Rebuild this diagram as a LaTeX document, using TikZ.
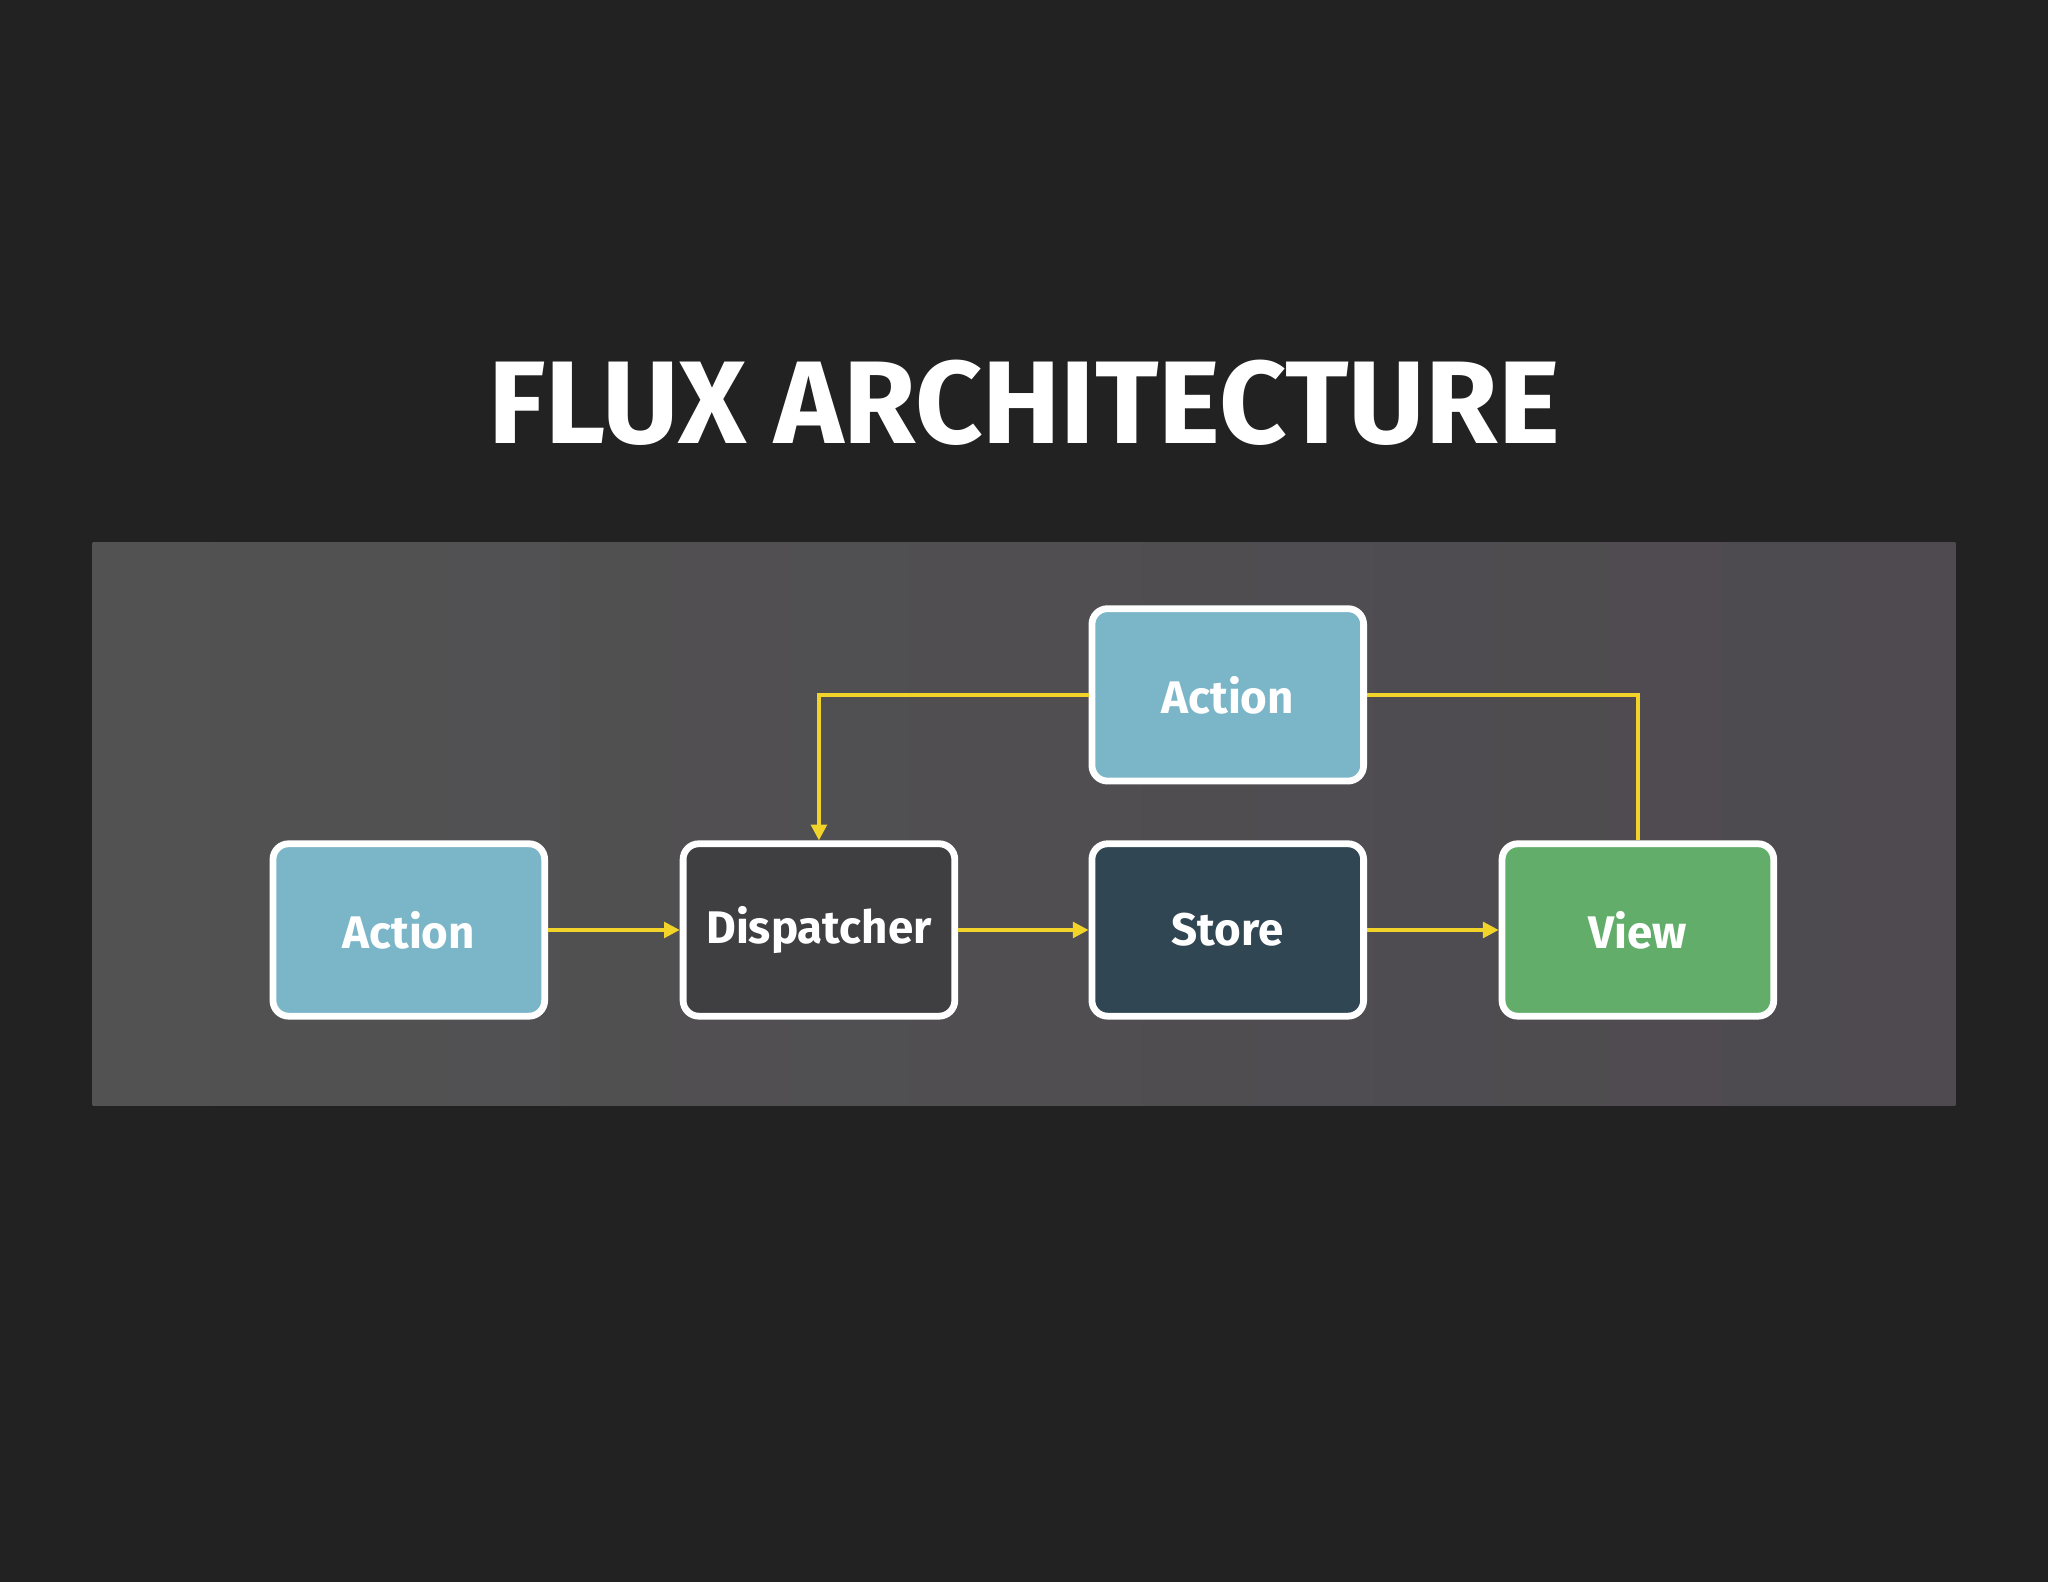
\documentclass[tikz,border=0pt]{standalone}
\usepackage{fontspec}
\setmainfont{Fira Sans}
\usetikzlibrary{arrows.meta}
\definecolor{bg}{HTML}{222223}
\definecolor{pl}{HTML}{525252}
\definecolor{pr}{HTML}{4E4A50}
\definecolor{act}{HTML}{7AB5C8}
\definecolor{disp}{HTML}{3F3F42}
\definecolor{sto}{HTML}{304653}
\definecolor{vie}{HTML}{62AD6A}
\definecolor{yel}{HTML}{F2D32A}
\begin{document}
\begin{tikzpicture}[x=0.5pt,y=-0.5pt,
 box/.style={draw=white,line width=2.6pt,rounded corners=6pt,minimum width=104pt,minimum height=66pt,inner sep=0pt,text=white,font=\fontsize{17.5}{20}\selectfont\bfseries},
 arr/.style={draw=yel,line width=1.3pt,-{Triangle[length=6pt,width=6pt]}}]
\fill[bg] (0,0) rectangle (1568,1211);
\useasboundingbox (0,0) rectangle (1568,1211);
\shade[left color=pl,right color=pr] (71,415) rectangle (1497,846);
\node[text=white,font=\fontsize{45}{50}\selectfont\bfseries] (title) at (784,308) {FLUX ARCHITECTURE};
\node[box,fill=act] (a1) at (313,712) {Action};
\node[box,fill=disp] (d) at (627,712) {Dispatcher};
\node[box,fill=sto] (s) at (940,712) {Store};
\node[box,fill=vie] (v) at (1254,712) {View};
\node[box,fill=act] (a2) at (940,532) {Action};
\draw[arr] (a1) -- (d);
\draw[arr] (d) -- (s);
\draw[arr] (s) -- (v);
\draw[arr] (a2.west) -| (d.north);
\draw[draw=yel,line width=1.3pt] (a2.east) -| (v.north);
\end{tikzpicture}
\end{document}
